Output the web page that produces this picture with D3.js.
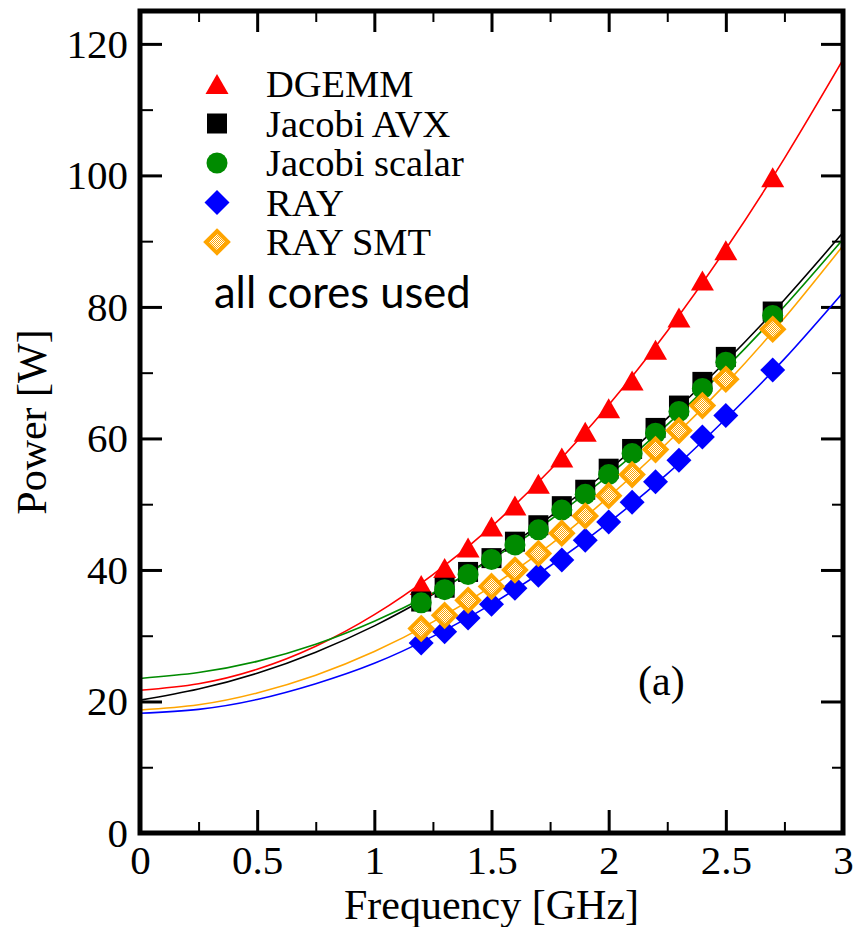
<!DOCTYPE html>
<html>
<head>
<meta charset="utf-8">
<script src="https://cdn.jsdelivr.net/npm/d3@7"></script>
<style>
 body { margin: 0; background: #fff; }
 svg { display: block; }
 .serif { font-family: 'Liberation Serif', 'Times New Roman', Times, 'DejaVu Serif', serif; }
</style>
</head>
<body>
<script>

// measured points, all cores used
var freq         = [1.2, 1.3, 1.4, 1.5, 1.6, 1.7, 1.8, 1.9, 2.0, 2.1, 2.2, 2.3, 2.4, 2.5, 2.7]
var dgemm        = [37.7, 40.3, 43.4, 46.6, 49.8, 53.1, 57.1, 61.0, 64.6, 68.8, 73.5, 78.4, 84.0, 88.6, 99.7]
var jacobiAvx    = [35.2, 37.3, 39.7, 41.8, 44.3, 46.8, 49.7, 52.2, 55.4, 58.4, 61.6, 65.0, 68.6, 72.4, 79.3]
var jacobiScalar = [35.0, 37.0, 39.3, 41.6, 43.8, 46.1, 49.1, 51.5, 54.5, 57.7, 60.8, 64.1, 67.6, 71.6, 78.7]
var ray          = [28.9, 30.6, 32.7, 34.8, 37.2, 39.2, 41.5, 44.5, 47.3, 50.3, 53.4, 56.7, 60.2, 63.5, 70.4]
var raySmt       = [31.1, 33.1, 35.4, 37.5, 40.0, 42.5, 45.6, 48.2, 51.3, 54.5, 58.3, 61.2, 65.0, 69.0, 76.6]

// fit curves, every 0.25 GHz
var fitFreq         = [0, 0.25, 0.5, 0.75, 1, 1.25, 1.5, 1.75, 2, 2.25, 2.5, 2.75, 3]
var dgemmFit        = [21.7, 22.7, 24.9, 28.4, 33.2, 39.3, 46.6, 55.2, 65.1, 76.3, 88.8, 102.6, 117.6]
var jacobiAvxFit    = [20.2, 21.9, 24.3, 27.5, 31.5, 36.3, 41.8, 48.1, 55.2, 63.1, 71.7, 81.1, 91.3]
var jacobiScalarFit = [23.5, 24.4, 26.1, 28.7, 32.2, 36.5, 41.6, 47.6, 54.4, 62.1, 70.7, 80.1, 90.3]
var rayFit          = [18.2, 18.8, 20.3, 22.7, 25.8, 29.9, 34.8, 40.6, 47.2, 54.6, 63.0, 72.1, 82.2]
var raySmtFit       = [18.7, 19.5, 21.3, 24.0, 27.6, 32.1, 37.5, 43.8, 51.1, 59.3, 68.3, 78.3, 89.3]

var seriesNames  = ['DGEMM', 'Jacobi AVX', 'Jacobi scalar', 'RAY', 'RAY SMT']
var seriesColors = ['#ff0000', '#000000', '#008b00', '#0000ff', '#ffa500']
var seriesShapes = ['triangle', 'square', 'circle', 'diamond', 'diamondHatched']

var xMajor = [0, 0.5, 1, 1.5, 2, 2.5, 3]
var xMinor = [0.25, 0.75, 1.25, 1.75, 2.25, 2.75]
var yMajor = [0, 20, 40, 60, 80, 100, 120]
var yMinor = [10, 30, 50, 70, 90, 110]

var xTitle = 'Frequency [GHz]'
var yTitle = 'Power [W]'
var note   = 'all cores used'
var panel  = '(a)'

var W = 854, H = 927
var L = 140, R = 843, T = 11, B = 833

var svg = d3.select('body').append('svg').attr('width', W).attr('height', H)

var defs = svg.append('defs')
var pat = defs.append('pattern').attr('id', 'hatch')
  .attr('width', 2).attr('height', 2).attr('patternUnits', 'userSpaceOnUse')
pat.append('rect').attr('width', 2).attr('height', 2).attr('fill', '#fff')
pat.append('rect').attr('width', 1).attr('height', 1).attr('fill', '#ffa500')
pat.append('rect').attr('x', 1).attr('y', 1).attr('width', 1).attr('height', 1).attr('fill', '#ffa500')
defs.append('clipPath').attr('id', 'plotclip').append('rect')
  .attr('x', L).attr('y', T).attr('width', R - L).attr('height', B - T)

var x = d3.scaleLinear().domain([0, 3]).range([L, R])
var y = d3.scaleLinear().domain([0, 125]).range([B, T])

// axes (ticks point inward)
function styleAxis(g, w) {
  g.attr('font-family', null).attr('font-size', null)
  g.select('.domain').remove()
  g.selectAll('.tick line').attr('stroke', '#000').attr('stroke-width', w)
  g.selectAll('text').attr('class', 'serif').style('font-size', '41px').attr('fill', '#000')
}
svg.append('g').attr('transform', 'translate(0,' + B + ')')
  .call(d3.axisBottom(x).tickValues(xMajor).tickSize(-23).tickPadding(12).tickFormat(d3.format('')))
  .call(styleAxis, 3)
svg.append('g').attr('transform', 'translate(0,' + B + ')')
  .call(d3.axisBottom(x).tickValues(xMinor).tickSize(-11).tickFormat(''))
  .call(styleAxis, 2)
svg.append('g').attr('transform', 'translate(0,' + T + ')')
  .call(d3.axisTop(x).tickValues(xMajor).tickSize(-21).tickFormat(''))
  .call(styleAxis, 3)
svg.append('g').attr('transform', 'translate(0,' + T + ')')
  .call(d3.axisTop(x).tickValues(xMinor).tickSize(-11).tickFormat(''))
  .call(styleAxis, 2)
svg.append('g').attr('transform', 'translate(' + L + ',0)')
  .call(d3.axisLeft(y).tickValues(yMajor).tickSize(-22).tickPadding(12))
  .call(styleAxis, 3)
svg.append('g').attr('transform', 'translate(' + L + ',0)')
  .call(d3.axisLeft(y).tickValues(yMinor).tickSize(-13).tickFormat(''))
  .call(styleAxis, 2)
svg.append('g').attr('transform', 'translate(' + R + ',0)')
  .call(d3.axisRight(y).tickValues(yMajor).tickSize(-22).tickFormat(''))
  .call(styleAxis, 3)
svg.append('g').attr('transform', 'translate(' + R + ',0)')
  .call(d3.axisRight(y).tickValues(yMinor).tickSize(-11).tickFormat(''))
  .call(styleAxis, 2)

// markers
function marker(g, shape, cx, cy, color) {
  if (shape == 'triangle') {
    g.append('path').attr('d', 'M' + cx + ',' + (cy - 10) + 'L' + (cx + 11.5) + ',' + (cy + 10) + 'L' + (cx - 11.5) + ',' + (cy + 10) + 'Z').attr('fill', color)
  } else if (shape == 'square') {
    g.append('rect').attr('x', cx - 10).attr('y', cy - 10).attr('width', 20).attr('height', 20).attr('fill', color)
  } else if (shape == 'circle') {
    g.append('circle').attr('cx', cx).attr('cy', cy).attr('r', 10.5).attr('fill', color)
  } else if (shape == 'diamond') {
    g.append('path').attr('d', 'M' + cx + ',' + (cy - 12.5) + 'L' + (cx + 12.5) + ',' + cy + 'L' + cx + ',' + (cy + 12.5) + 'L' + (cx - 12.5) + ',' + cy + 'Z').attr('fill', color)
  } else {
    g.append('path').attr('d', 'M' + cx + ',' + (cy - 11) + 'L' + (cx + 11) + ',' + cy + 'L' + cx + ',' + (cy + 11) + 'L' + (cx - 11) + ',' + cy + 'Z')
      .attr('fill', 'url(#hatch)').attr('stroke', color).attr('stroke-width', 4).attr('stroke-linejoin', 'miter')
  }
}

var measured = [dgemm, jacobiAvx, jacobiScalar, ray, raySmt]
var fits     = [dgemmFit, jacobiAvxFit, jacobiScalarFit, rayFit, raySmtFit]

var line = d3.line().x(function(d) { return x(d[0]) }).y(function(d) { return y(d[1]) }).curve(d3.curveNatural)

var plot = svg.append('g').attr('clip-path', 'url(#plotclip)')
for (var s = 0; s < seriesNames.length; s++) {
  var pts = fitFreq.map(function(f, i) { return [f, fits[s][i]] })
  plot.append('path').attr('d', line(pts)).attr('fill', 'none')
    .attr('stroke', seriesColors[s]).attr('stroke-width', 1.6)
}
for (var s = 0; s < seriesNames.length; s++) {
  var g = plot.append('g')
  for (var i = 0; i < freq.length; i++) {
    marker(g, seriesShapes[s], x(freq[i]), y(measured[s][i]), seriesColors[s])
  }
}

// frame
svg.append('rect').attr('x', L).attr('y', T).attr('width', R - L).attr('height', B - T)
  .attr('fill', 'none').attr('stroke', '#000').attr('stroke-width', 5)

// legend
var leg = svg.append('g')
for (var s = 0; s < seriesNames.length; s++) {
  var ly = 84 + s * 39.5
  marker(leg, seriesShapes[s], 217, ly, seriesColors[s])
  leg.append('text').attr('class', 'serif').attr('x', 266).attr('y', ly + 13)
    .style('font-size', '38.5px').text(seriesNames[s])
}
svg.append('text').attr('x', 214).attr('y', 308)
  .style('font-family', "Lato, 'Open Sans', sans-serif").style('font-size', '43.5px').text(note)

svg.append('text').attr('class', 'serif').attr('x', 638).attr('y', 695)
  .style('font-size', '42px').text(panel)

// titles
svg.append('text').attr('class', 'serif').attr('x', (L + R) / 2).attr('y', 919).attr('text-anchor', 'middle')
  .style('font-size', '42px').text(xTitle)
svg.append('text').attr('class', 'serif').attr('transform', 'translate(46,' + (T + B) / 2 + ') rotate(-90)')
  .attr('text-anchor', 'middle')
  .style('font-size', '42px').text(yTitle)

</script>
</body>
</html>
